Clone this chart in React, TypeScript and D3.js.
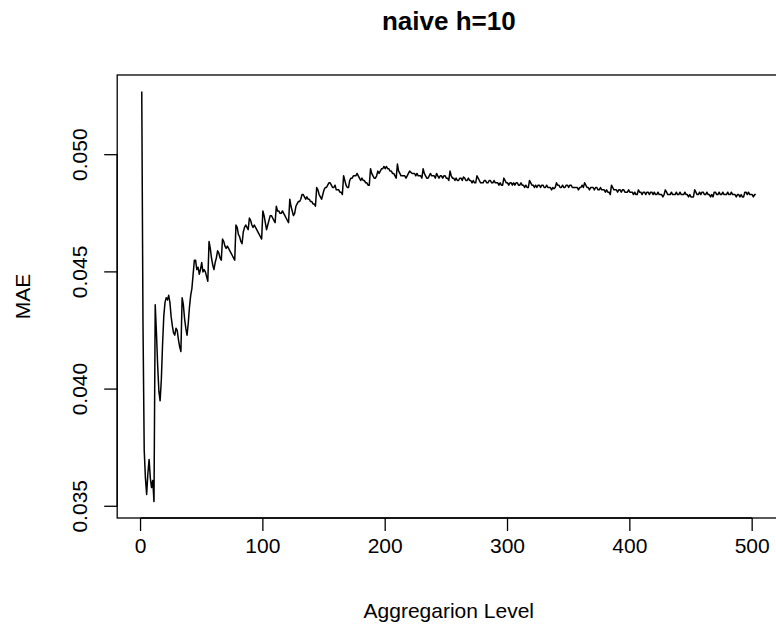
import React from "react";
import * as d3 from "d3";

const title = "naive h=10";
const xLabel = "Aggregarion Level";
const yLabel = "MAE";
const xTicks = [0, 100, 200, 300, 400, 500];
const yTicks = [0.035, 0.04, 0.045, 0.05];
const yTickLabels = ["0.035", "0.040", "0.045", "0.050"];

// MAE per aggregation level (levels 1..503)
const mae = [
  0.0527,0.0428,0.0374,0.0362,0.0355,0.0364,0.0370,0.0362,0.0358,0.0361,
  0.0352,0.0436,0.0424,0.0410,0.0399,0.0395,0.0404,0.0419,0.0431,0.0437,
  0.0439,0.0438,0.0440,0.0437,0.0431,0.0427,0.0424,0.0423,0.0426,0.0425,
  0.0421,0.0418,0.0416,0.0439,0.0436,0.0430,0.0426,0.0423,0.0428,0.0435,
  0.0440,0.0443,0.0449,0.0455,0.0455,0.0451,0.0452,0.0449,0.0451,0.0454,
  0.0450,0.0451,0.0450,0.0448,0.0446,0.0463,0.0460,0.0456,0.0453,0.0451,
  0.0454,0.0456,0.0459,0.0458,0.0456,0.0455,0.0464,0.0463,0.0461,0.0460,
  0.0461,0.0460,0.0459,0.0458,0.0457,0.0456,0.0455,0.0470,0.0469,0.0466,
  0.0465,0.0463,0.0462,0.0467,0.0469,0.0470,0.0469,0.0468,0.0473,0.0472,
  0.0470,0.0469,0.0470,0.0469,0.0468,0.0467,0.0466,0.0465,0.0464,0.0476,
  0.0474,0.0471,0.0468,0.0470,0.0472,0.0474,0.0474,0.0473,0.0472,0.0471,
  0.0478,0.0476,0.0476,0.0475,0.0475,0.0476,0.0475,0.0474,0.0473,0.0472,
  0.0471,0.0481,0.0478,0.0476,0.0474,0.0475,0.0478,0.0479,0.0480,0.0480,
  0.0481,0.0483,0.0483,0.0482,0.0481,0.0482,0.0481,0.0481,0.0480,0.0480,
  0.0479,0.0479,0.0478,0.0486,0.0485,0.0483,0.0482,0.0481,0.0483,0.0485,
  0.0486,0.0486,0.0487,0.0488,0.0488,0.0487,0.0486,0.0486,0.0487,0.0485,
  0.0485,0.0485,0.0484,0.0484,0.0483,0.0491,0.0489,0.0487,0.0486,0.0486,
  0.0489,0.0490,0.0490,0.0491,0.0491,0.0491,0.0492,0.0491,0.0490,0.0489,
  0.0490,0.0489,0.0489,0.0488,0.0488,0.0487,0.0487,0.0494,0.0492,0.0491,
  0.0490,0.0490,0.0491,0.0493,0.0492,0.0493,0.0494,0.0494,0.0495,0.0494,
  0.0495,0.0494,0.0494,0.0493,0.0493,0.0492,0.0492,0.0491,0.0490,0.0496,
  0.0493,0.0492,0.0491,0.0491,0.0491,0.0491,0.0490,0.0491,0.0492,0.0493,
  0.04925,0.0492,0.0492,0.0492,0.0491,0.0492,0.0491,0.0491,0.0491,0.0490,
  0.0494,0.0492,0.0491,0.0490,0.0490,0.0491,0.0492,0.0491,0.0491,0.0491,
  0.0490,0.0492,0.0491,0.0490,0.0491,0.0491,0.0490,0.0491,0.0491,0.0490,
  0.0490,0.0489,0.0493,0.0491,0.0490,0.0490,0.0489,0.0490,0.0489,0.0489,
  0.0490,0.0490,0.0489,0.04905,0.0490,0.0489,0.0489,0.0490,0.0489,0.0489,
  0.0488,0.0489,0.0488,0.0488,0.0491,0.0490,0.0489,0.0488,0.0488,0.0488,
  0.0489,0.0489,0.0488,0.0488,0.0489,0.0489,0.0488,0.0488,0.0489,0.0488,
  0.0488,0.0488,0.0487,0.0488,0.0487,0.0487,0.0490,0.0489,0.0488,0.0488,
  0.0487,0.0488,0.0488,0.0487,0.0488,0.0487,0.0488,0.0488,0.0487,0.0487,
  0.0488,0.0487,0.0487,0.0486,0.0487,0.0486,0.0486,0.0489,0.0488,0.0487,
  0.0487,0.0486,0.0487,0.0486,0.0487,0.0487,0.0486,0.0487,0.0487,0.0486,
  0.0486,0.0487,0.0486,0.0486,0.0486,0.0485,0.0486,0.04855,0.0486,0.0488,
  0.0487,0.0487,0.0486,0.0486,0.0487,0.0486,0.0486,0.0487,0.0487,0.0486,
  0.0487,0.0487,0.0486,0.0486,0.0486,0.0486,0.0486,0.0485,0.0486,0.0486,
  0.0487,0.0486,0.0488,0.0487,0.0486,0.0486,0.0485,0.0486,0.0486,0.0486,
  0.0485,0.0486,0.0486,0.0485,0.0485,0.0486,0.0485,0.0485,0.0485,0.0484,
  0.0485,0.0484,0.0484,0.0483,0.0487,0.0486,0.0485,0.0485,0.0485,0.0484,
  0.0485,0.0485,0.0484,0.0485,0.0485,0.0484,0.0484,0.0484,0.0485,0.0484,
  0.0484,0.0484,0.0483,0.0484,0.0483,0.0483,0.0485,0.0484,0.0484,0.0483,
  0.0484,0.0484,0.0483,0.0484,0.0484,0.0483,0.0484,0.0484,0.0483,0.0484,
  0.0483,0.0483,0.0484,0.0483,0.0483,0.0483,0.0482,0.0483,0.0485,0.0484,
  0.0483,0.0483,0.0483,0.0484,0.0483,0.0483,0.0483,0.0484,0.0483,0.0483,
  0.0484,0.0483,0.0483,0.0483,0.0484,0.0483,0.0483,0.0482,0.0483,0.0482,
  0.0482,0.0482,0.0485,0.0484,0.0483,0.0483,0.0484,0.0483,0.0484,0.0484,
  0.0483,0.0483,0.0484,0.0483,0.0483,0.0482,0.0483,0.0482,0.0484,0.0484,
  0.0483,0.0483,0.0484,0.0483,0.0483,0.0484,0.0483,0.0483,0.0483,0.0484,
  0.0483,0.0483,0.0484,0.0483,0.0483,0.0483,0.0482,0.0483,0.0483,0.0482,
  0.0483,0.0482,0.0482,0.0484,0.0484,0.0483,0.0484,0.0483,0.0483,0.0483,
  0.0482,0.0483,0.0483,
];
const levels = mae.map((_, i) => i + 1);

const W = 776;
const H = 632;
const FONT = "'Liberation Sans', Arial, Helvetica, sans-serif";

export default function App() {
  // R-style 4% axis padding
  const [x0, x1] = d3.extent(levels) as [number, number];
  const [y0, y1] = d3.extent(mae) as [number, number];
  const px = (x1 - x0) * 0.04;
  const py = (y1 - y0) * 0.04;

  const left = 117.2;
  const right = 780.4;
  const top = 75;
  const bottom = 518;

  const x = d3.scaleLinear().domain([x0 - px, x1 + px]).range([left, right]);
  const y = d3.scaleLinear().domain([y0 - py, y1 + py]).range([bottom, top]);

  const line = d3
    .line<number>()
    .x((_, i) => x(levels[i]))
    .y((d) => y(d));

  const tickLen = 13;
  const cx = (left + right) / 2;
  const cy = (top + bottom) / 2;

  return (
    <svg
      width={W}
      height={H}
      style={{ position: "absolute", left: 0, top: 0, background: "#fff" }}
      fontFamily={FONT}
    >
      <rect x={0} y={0} width={W} height={H} fill="#fff" />
      <text x={cx} y={30} textAnchor="middle" fontSize={26} fontWeight="bold">
        {title}
      </text>
      <path d={line(mae) || ""} fill="none" stroke="#000" strokeWidth={1.5} strokeLinejoin="round" />
      <rect x={left} y={top} width={right - left} height={bottom - top} fill="none" stroke="#000" strokeWidth={1.3} />
      {/* x axis */}
      <line x1={x(xTicks[0])} x2={x(xTicks[xTicks.length - 1])} y1={bottom} y2={bottom} stroke="#000" strokeWidth={1.3} />
      {xTicks.map((t) => (
        <g key={t}>
          <line x1={x(t)} x2={x(t)} y1={bottom} y2={bottom + tickLen} stroke="#000" strokeWidth={1.3} />
          <text x={x(t)} y={553} textAnchor="middle" fontSize={21}>
            {t}
          </text>
        </g>
      ))}
      {/* y axis */}
      <line x1={left} x2={left} y1={y(yTicks[0])} y2={y(yTicks[yTicks.length - 1])} stroke="#000" strokeWidth={1.3} />
      {yTicks.map((t, i) => (
        <g key={t}>
          <line x1={left} x2={left - tickLen} y1={y(t)} y2={y(t)} stroke="#000" strokeWidth={1.3} />
          <text
            transform={`translate(${87},${y(t)}) rotate(-90)`}
            textAnchor="middle"
            fontSize={21}
          >
            {yTickLabels[i]}
          </text>
        </g>
      ))}
      <text x={cx} y={618} textAnchor="middle" fontSize={21}>
        {xLabel}
      </text>
      <text transform={`translate(${30},${cy}) rotate(-90)`} textAnchor="middle" fontSize={21}>
        {yLabel}
      </text>
    </svg>
  );
}
